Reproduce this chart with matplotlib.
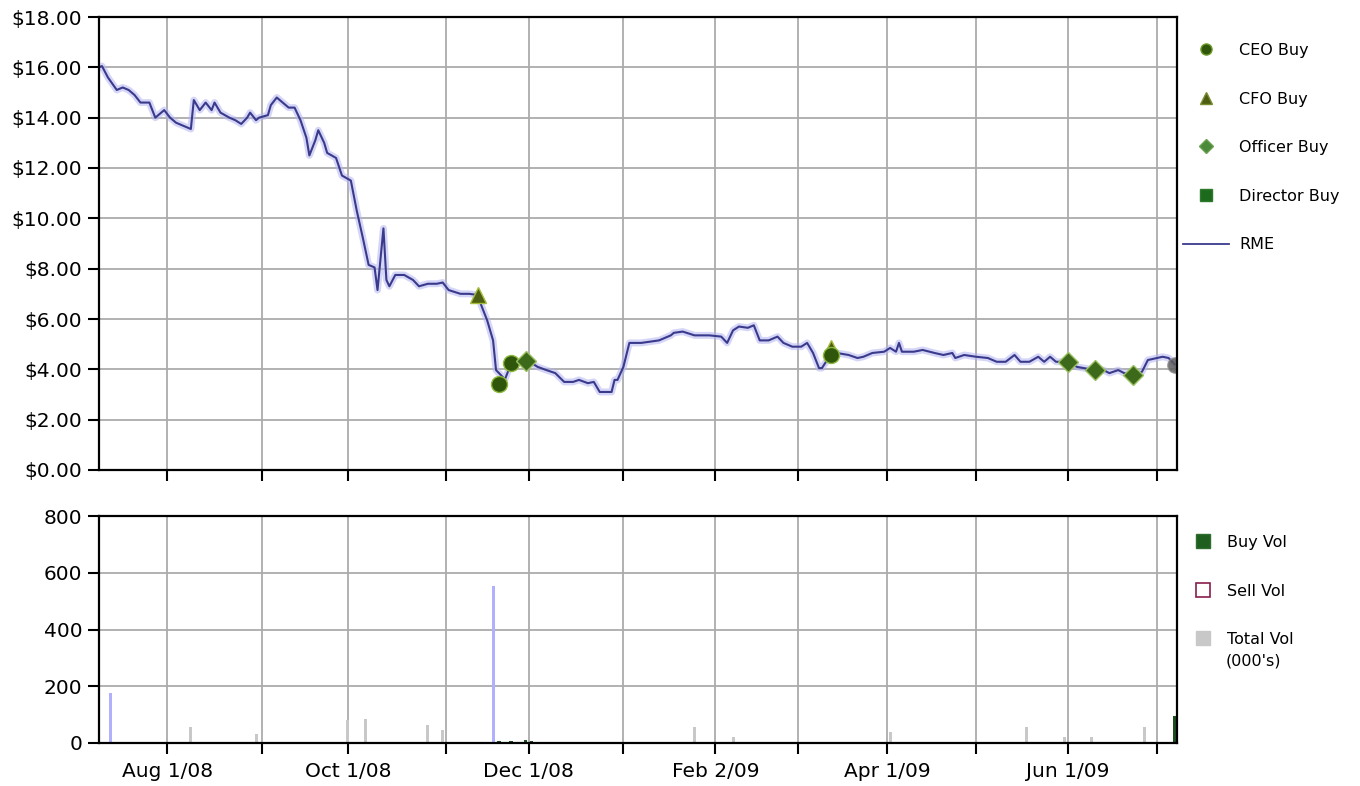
import matplotlib
matplotlib.use("Agg")
import matplotlib.pyplot as plt
import matplotlib.dates as mdates
import numpy as np
import pandas as pd
from matplotlib.lines import Line2D

# RME closing price
price_dates = [
    "2008-07-09", "2008-07-10", "2008-07-12", "2008-07-15", "2008-07-17", "2008-07-19", "2008-07-21",
    "2008-07-23", "2008-07-26", "2008-07-28", "2008-07-30", "2008-07-31",
    "2008-08-02", "2008-08-04", "2008-08-06", "2008-08-09", "2008-08-10", "2008-08-12", "2008-08-14",
    "2008-08-16", "2008-08-17", "2008-08-19", "2008-08-22", "2008-08-24", "2008-08-26", "2008-08-28",
    "2008-08-29", "2008-08-31",
    "2008-09-01", "2008-09-04", "2008-09-05", "2008-09-07", "2008-09-09", "2008-09-11", "2008-09-13",
    "2008-09-15", "2008-09-17", "2008-09-18", "2008-09-20", "2008-09-21", "2008-09-23", "2008-09-24",
    "2008-09-27", "2008-09-29",
    "2008-10-02", "2008-10-04", "2008-10-06", "2008-10-08", "2008-10-10", "2008-10-11", "2008-10-13",
    "2008-10-14", "2008-10-15", "2008-10-17", "2008-10-20", "2008-10-23", "2008-10-25", "2008-10-28",
    "2008-10-31",
    "2008-11-02", "2008-11-04", "2008-11-08", "2008-11-11", "2008-11-14", "2008-11-15", "2008-11-17",
    "2008-11-19", "2008-11-20", "2008-11-21", "2008-11-23", "2008-11-25", "2008-11-27", "2008-11-30",
    "2008-12-02", "2008-12-04", "2008-12-07", "2008-12-10", "2008-12-13", "2008-12-16", "2008-12-18",
    "2008-12-21", "2008-12-23", "2008-12-25", "2008-12-29", "2008-12-30", "2008-12-31",
    "2009-01-02", "2009-01-04", "2009-01-08", "2009-01-11", "2009-01-14", "2009-01-18", "2009-01-19",
    "2009-01-22", "2009-01-26", "2009-01-31",
    "2009-02-04", "2009-02-06", "2009-02-08", "2009-02-10", "2009-02-13", "2009-02-15", "2009-02-17",
    "2009-02-20", "2009-02-23", "2009-02-25", "2009-02-28",
    "2009-03-03", "2009-03-05", "2009-03-07", "2009-03-09", "2009-03-10", "2009-03-13", "2009-03-15",
    "2009-03-19", "2009-03-22", "2009-03-24", "2009-03-27", "2009-03-31",
    "2009-04-02", "2009-04-04", "2009-04-05", "2009-04-06", "2009-04-10", "2009-04-13", "2009-04-17",
    "2009-04-20", "2009-04-23", "2009-04-24", "2009-04-27",
    "2009-05-01", "2009-05-05", "2009-05-08", "2009-05-11", "2009-05-14", "2009-05-16", "2009-05-19",
    "2009-05-22", "2009-05-24", "2009-05-26", "2009-05-28",
    "2009-06-01", "2009-06-04", "2009-06-10", "2009-06-13", "2009-06-15", "2009-06-18", "2009-06-20",
    "2009-06-23", "2009-06-26", "2009-06-28",
    "2009-07-01", "2009-07-03", "2009-07-05", "2009-07-07",
]
price_vals = [
    16.0, 16.05, 15.6, 15.1, 15.2, 15.1, 14.9,
    14.6, 14.6, 14.0, 14.2, 14.3,
    14.0, 13.8, 13.7, 13.55, 14.7, 14.3, 14.6,
    14.3, 14.6, 14.2, 14.0, 13.9, 13.75, 14.0,
    14.2, 13.9,
    14.0, 14.1, 14.5, 14.8, 14.6, 14.4, 14.4,
    13.9, 13.2, 12.5, 13.1, 13.5, 13.0, 12.6,
    12.4, 11.7,
    11.5, 10.3, 9.25, 8.15, 8.05, 7.15, 9.6,
    7.55, 7.3, 7.75, 7.75, 7.55, 7.3, 7.4,
    7.4,
    7.45, 7.15, 7.0, 7.0, 6.95, 6.55, 5.95,
    5.15, 3.97, 3.85, 3.6, 4.2, 4.3, 4.3,
    4.25, 4.1, 3.97, 3.85, 3.5, 3.5, 3.58,
    3.45, 3.5, 3.1, 3.1, 3.58, 3.58,
    4.1, 5.05, 5.05, 5.1, 5.15, 5.35, 5.45,
    5.5, 5.35, 5.35,
    5.3, 5.05, 5.55, 5.7, 5.65, 5.75, 5.15,
    5.15, 5.3, 5.05, 4.9,
    4.9, 5.05, 4.65, 4.05, 4.05, 4.6, 4.65,
    4.57, 4.45, 4.5, 4.65, 4.7,
    4.85, 4.7, 5.05, 4.7, 4.7, 4.77, 4.65,
    4.57, 4.65, 4.45, 4.57,
    4.5, 4.45, 4.3, 4.3, 4.57, 4.3, 4.3,
    4.5, 4.3, 4.5, 4.3,
    4.3, 4.1, 3.97, 3.97, 3.85, 3.97, 3.85,
    3.77, 3.9, 4.37,
    4.45, 4.5, 4.45, 4.2,
]

# insider buys
ceo_dates = ["2008-11-21", "2008-11-25", "2009-03-13"]
ceo_prices = [3.42, 4.25, 4.55]
cfo_dates = ["2008-11-14", "2009-03-13"]
cfo_prices = [6.95, 4.85]
officer_dates = ["2008-11-30", "2009-06-01", "2009-06-10", "2009-06-23"]
officer_prices = [4.33, 4.3, 3.97, 3.77]
last_dates = ["2009-07-07"]
last_prices = [4.17]

# volume (000's)
total_vol_dates = ["2008-08-09", "2008-08-31", "2008-10-01", "2008-10-07", "2008-10-28", "2008-11-02",
                   "2009-01-26", "2009-02-08", "2009-04-02", "2009-05-18", "2009-05-31", "2009-06-09",
                   "2009-06-27"]
total_vol = [55, 30, 80, 85, 65, 45, 58, 20, 38, 56, 20, 20, 56]
high_vol_dates = ["2008-07-13", "2008-11-19"]
high_vol = [175, 555]
buy_vol_dates = ["2008-11-21", "2008-11-25", "2008-11-30", "2008-12-02", "2009-07-07"]
buy_vol = [6, 8, 10, 6, 95]

tick_dates = ["2008-08-01", "2008-09-02", "2008-10-01", "2008-11-03", "2008-12-01", "2009-01-02",
              "2009-02-02", "2009-03-02", "2009-04-01", "2009-05-01", "2009-06-01", "2009-07-01"]
tick_labels = ["Aug 1/08", "", "Oct 1/08", "", "Dec 1/08", "", "Feb 2/09", "", "Apr 1/09", "",
               "Jun 1/09", ""]

pdates = pd.to_datetime(price_dates)
ticks = pd.to_datetime(tick_dates)
xmin = pd.Timestamp("2008-07-09")
xmax = pd.Timestamp("2009-07-07 20:00")

fs = 14.5
fig = plt.figure(figsize=(13.6, 7.86), dpi=100)
ax1 = fig.add_axes([99 / 1360, 1 - 470 / 786, 1078 / 1360, 453 / 786])
ax2 = fig.add_axes([99 / 1360, 1 - 743 / 786, 1078 / 1360, 227 / 786])

for ax in (ax1, ax2):
    ax.set_xlim(xmin, xmax)
    ax.set_xticks(ticks)
    ax.grid(True, color="#ababab", lw=1.3)
    ax.set_axisbelow(True)
    for s in ax.spines.values():
        s.set_linewidth(1.6)
        s.set_color("black")
    ax.tick_params(axis="both", length=8, width=1.5, labelsize=fs, color="black", pad=4)

# price panel
ax1.plot(pdates, price_vals, color="#b4b4f2", lw=5, alpha=0.55, solid_joinstyle="round")
ax1.plot(pdates, price_vals, color="#3a3a8c", lw=1.5)
ax1.plot(pd.to_datetime(cfo_dates), cfo_prices, ls="none", marker="^", ms=12,
         mfc="#4d5e12", mec="#a4bc3a", mew=1)
ax1.plot(pd.to_datetime(ceo_dates), ceo_prices, ls="none", marker="o", ms=11.5,
         mfc="#2f560b", mec="#8cb83c", mew=1)
ax1.plot(pd.to_datetime(officer_dates), officer_prices, ls="none", marker="D", ms=10,
         mfc="#3d6a1a", mec="#9ac060", mew=1)
ax1.plot(pd.to_datetime(last_dates), last_prices, ls="none", marker="o", ms=11,
         mfc="#5e5e5e", mec="#8a8a8a", alpha=0.85)
ax1.set_ylim(0, 18)
ax1.set_yticks(np.arange(0, 19, 2))
ax1.set_yticklabels(["$%.2f" % v for v in np.arange(0, 19, 2)])
ax1.set_xticklabels([])

# volume panel
ax2.bar(pd.to_datetime(total_vol_dates), total_vol, width=1.0, color="#c8c8c8")
ax2.bar(pd.to_datetime(high_vol_dates), high_vol, width=1.0, color="#b0b0ff")
ax2.bar(pd.to_datetime(buy_vol_dates), buy_vol, width=1.2, color="#1e4e1e")
ax2.set_ylim(0, 800)
ax2.set_yticks([0, 200, 400, 600, 800])
ax2.set_xticklabels(tick_labels)
ax2.tick_params(axis="x", pad=6)

# legends
h1 = [
    Line2D([], [], ls="none", marker="o", ms=8, mfc="#2f560b", mec="#6e9a2a"),
    Line2D([], [], ls="none", marker="^", ms=9, mfc="#4d5e12", mec="#7a8c30"),
    Line2D([], [], ls="none", marker="D", ms=7.5, mfc="#4a8a3a", mec="#6aa050"),
    Line2D([], [], ls="none", marker="s", ms=9, mfc="#1d6a1d", mec="#2c7a2c"),
    Line2D([], [], color="#3a3a8c", lw=1.3),
]
l1 = ["CEO Buy", "CFO Buy", "Officer Buy", "Director Buy", "RME"]
fig.legend(h1, l1, loc="upper left", bbox_to_anchor=(1183 / 1360, 1 - 43 / 786),
           frameon=False, fontsize=11.5, labelspacing=2.1, handlelength=2.9,
           handletextpad=0.6, borderpad=0, borderaxespad=0)

h2 = [
    Line2D([], [], ls="none", marker="s", ms=10, mfc="#1e5e1e", mec="#2e6e2e"),
    Line2D([], [], ls="none", marker="s", ms=10, mfc="white", mec="#8a1c4c", mew=1.2),
    Line2D([], [], ls="none", marker="s", ms=10, mfc="#c8c8c8", mec="#c8c8c8"),
]
l2 = ["Buy Vol", "Sell Vol", "Total Vol"]
fig.legend(h2, l2, loc="upper left", bbox_to_anchor=(1193 / 1360, 1 - 535 / 786),
           frameon=False, fontsize=11.5, labelspacing=2.1, handlelength=1.2,
           handletextpad=0.9, borderpad=0, borderaxespad=0)
fig.text(1226 / 1360, 1 - 661 / 786, "(000's)", fontsize=11.5, va="center", ha="left")

fig.savefig("out.png", dpi=100)
